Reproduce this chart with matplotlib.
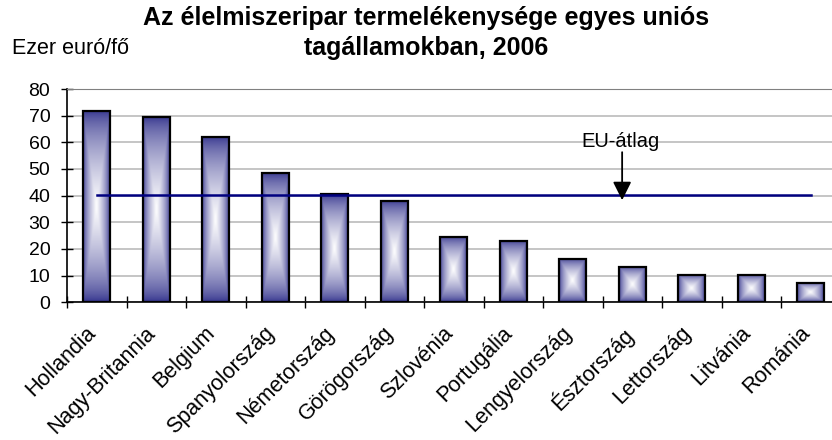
import numpy as np
import matplotlib
matplotlib.use("Agg")
import matplotlib.pyplot as plt

plt.rcParams['font.family'] = ['Liberation Sans', 'DejaVu Sans']

countries = ["Hollandia", "Nagy-Britannia", "Belgium", "Spanyolország",
             "Németország", "Görögország", "Szlovénia", "Portugália",
             "Lengyelország", "Észtország", "Lettország", "Litvánia", "Románia"]
values = [71.9, 69.5, 62.1, 48.6, 40.5, 38.0, 24.5, 23.0, 16.2, 13.4, 10.4, 10.4, 7.4]
eu_avg = 40.3
yticks = [0, 10, 20, 30, 40, 50, 60, 70, 80]

DARK = np.array([40, 40, 135]) / 255.0
WHITE = np.array([1.0, 1.0, 1.0])


def bar_gradient(w_px, h_px):
    """rectangle 'from centre' fill, dark at the edges, white in the middle"""
    nx = max(int(w_px), 2)
    ny = max(int(h_px), 2)
    hw = nx / 2.0
    hh = ny / 2.0
    x = np.abs(np.arange(nx) + 0.5 - hw)
    y = np.abs(np.arange(ny) + 0.5 - hh)
    X, Y = np.meshgrid(x, y)
    u = 1 - X / hw
    v = 1 - Y / hh
    t = np.clip(np.minimum(u, v), 0, 1) ** 0.6
    img = DARK[None, None, :] * (1 - t[..., None]) + WHITE[None, None, :] * t[..., None]
    return img


fig = plt.figure(figsize=(8.32, 4.4), dpi=100)
ax = fig.add_axes([67 / 832, 1 - 302.3 / 440, 13 * 59.5 / 832, (302.3 - 89) / 440])

n = len(countries)
xs = np.arange(n)
bw = 0.45
ax.set_xlim(-0.5, n - 0.5)
ax.set_ylim(0, 80)

px_per_unit = (302.3 - 89) / 80.0
for i, v in enumerate(values):
    img = bar_gradient(bw * 59.5, v * px_per_unit)
    ax.imshow(img, extent=[i - bw / 2, i + bw / 2, 0, v], aspect='auto',
              interpolation='bilinear', zorder=2)
ax.bar(xs, values, width=bw, facecolor='none', edgecolor='black', linewidth=1.6, zorder=3)

# EU average line with arrow
ax.plot([xs[0], xs[-1]], [eu_avg, eu_avg], color='#000080', lw=1.8, zorder=4)
ax.annotate("", xy=(8.83, 38.3), xytext=(8.83, 56.3),
            arrowprops=dict(arrowstyle='-|>', color='black', lw=1.3, mutation_scale=28,
                            shrinkA=0, shrinkB=0), zorder=5)
ax.text(8.80, 56.9, "EU-átlag", ha='center', va='bottom', fontsize=14.5, zorder=5)

ax.set_yticks(yticks)
ax.set_yticklabels([str(t) for t in yticks], fontsize=14)
ax.yaxis.grid(True, color='#c0c0c0', lw=1.3)
ax.set_axisbelow(True)
ax.set_xticks(np.arange(n + 1) - 0.5)
ax.set_xticklabels([])
ax.tick_params(axis='both', which='major', direction='inout', length=8, width=1, color='black')
ax.tick_params(axis='y', pad=8)

for i, name in enumerate(countries):
    ax.annotate(name, xy=(i, 0), xycoords=('data', 'axes fraction'),
                xytext=(-8, -14.5), textcoords='offset points',
                rotation=45, ha='right', va='top', rotation_mode='anchor', fontsize=15.5)

ax.spines['right'].set_visible(False)
ax.spines['top'].set_color('#808080')
ax.spines['left'].set_linewidth(1.2)
ax.spines['bottom'].set_linewidth(1.2)

fig.text(12 / 832, 1 - 48 / 440, "Ezer euró/fő", fontsize=15.5, ha='left', va='center')
fig.text(0.512, 1 - 33 / 440, "Az élelmiszeripar termelékenysége egyes uniós\ntagállamokban, 2006",
         fontsize=18, fontweight='bold', ha='center', va='center', linespacing=1.3)

fig.savefig("out.png", dpi=100)
